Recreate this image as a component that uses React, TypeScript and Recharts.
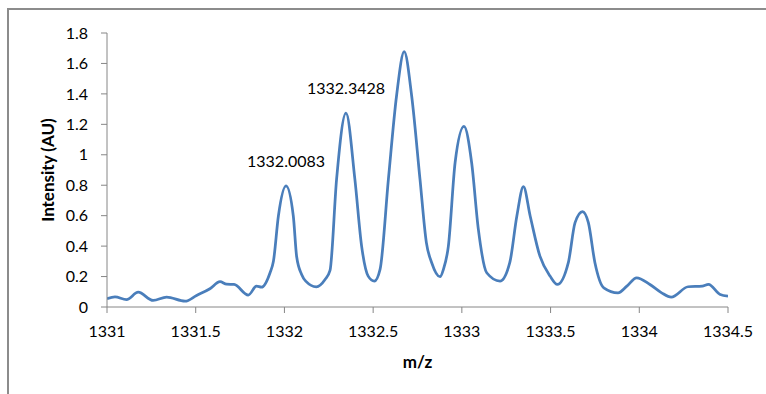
import { LineChart, Line, XAxis, YAxis, Label } from 'recharts'

// m/z readings and intensities
const mzValues = [
  1331.0, 1331.045, 1331.11, 1331.176, 1331.26, 1331.336, 1331.44, 1331.505, 1331.58, 1331.637,
  1331.674, 1331.716, 1331.796, 1331.843, 1331.871, 1331.919, 1331.938, 1331.966, 1332.009, 1332.05,
  1332.069, 1332.097, 1332.12, 1332.18, 1332.229, 1332.257, 1332.294, 1332.347, 1332.397, 1332.435,
  1332.472, 1332.507, 1332.539, 1332.586, 1332.632, 1332.675, 1332.717, 1332.764, 1332.8, 1332.83,
  1332.877, 1332.896, 1332.924, 1332.962, 1333.012, 1333.055, 1333.093, 1333.14, 1333.215, 1333.27,
  1333.31, 1333.347, 1333.385, 1333.44, 1333.497, 1333.538, 1333.6, 1333.638, 1333.68, 1333.713,
  1333.75, 1333.8, 1333.88, 1333.93, 1333.985, 1334.06, 1334.126, 1334.18, 1334.275, 1334.355,
  1334.39, 1334.456, 1334.5,
]
const intensityValues = [
  0.054, 0.067, 0.049, 0.097, 0.043, 0.065, 0.038, 0.076, 0.12, 0.166,
  0.15, 0.148, 0.078, 0.137, 0.13, 0.225, 0.3, 0.598, 0.795, 0.598,
  0.33, 0.214, 0.17, 0.133, 0.181, 0.24, 0.84, 1.274, 0.84, 0.4,
  0.203, 0.17, 0.247, 0.84, 1.388, 1.677, 1.388, 0.84, 0.423, 0.291,
  0.199, 0.247, 0.4, 0.949, 1.186, 0.949, 0.51, 0.225, 0.17, 0.291,
  0.598, 0.791, 0.598, 0.334, 0.203, 0.148, 0.291, 0.554, 0.627, 0.554,
  0.291, 0.126, 0.093, 0.137, 0.192, 0.148, 0.093, 0.065, 0.133, 0.137,
  0.148, 0.082, 0.071,
]

const xTicks = [1331, 1331.5, 1332, 1332.5, 1333, 1333.5, 1334, 1334.5]
const yTicks = [0, 0.2, 0.4, 0.6, 0.8, 1, 1.2, 1.4, 1.6, 1.8]

// annotated peaks
const peakMz = [1332.009, 1332.347]
const peakText = ['1332.0083', '1332.3428']

const data = mzValues.map((mz, i) => ({ mz, intensity: intensityValues[i] }))

const FONT = 'Lato, "Open Sans", sans-serif'
const AXIS = '#868686'

function PeakLabel(props: { x?: number; y?: number; index?: number }) {
  const { x, y, index } = props
  if (x == null || y == null || index == null) return null
  const k = peakMz.indexOf(mzValues[index])
  if (k < 0) return null
  return (
    <text x={x} y={y - 25} dy="0.35em" textAnchor="middle" fontFamily={FONT} fontSize={16} fill="#000">
      {peakText[k]}
    </text>
  )
}

export default function App() {
  return (
    <div style={{ position: 'absolute', left: 0, top: 0, width: 766, height: 394, background: '#fff', overflow: 'hidden' }}>
      <div
        style={{
          position: 'absolute',
          left: 7,
          top: 8,
          width: 780,
          height: 400,
          borderTop: '2px solid #8c8c8c',
          borderLeft: '2px solid #8c8c8c',
        }}
      />
      <LineChart
        width={766}
        height={394}
        data={data}
        margin={{ top: 33, right: 38, left: 0, bottom: 27 }}
        style={{ position: 'absolute', left: 0, top: 0 }}
      >
        <XAxis
          dataKey="mz"
          type="number"
          domain={[1331, 1334.5]}
          ticks={xTicks}
          tickFormatter={(v: number) => String(v)}
          height={60}
          stroke={AXIS}
          tickSize={6}
          tickMargin={13}
          tick={{ fontSize: 16, fontFamily: FONT, fill: '#000' }}
          allowDataOverflow
        >
          <Label
            content={({ viewBox }: any) => (
              <text
                x={viewBox.x + viewBox.width / 2}
                y={viewBox.y + 55}
                textAnchor="middle"
                dy="0.35em"
                fontFamily={FONT}
                fontWeight={700}
                fontSize={17}
                fill="#000"
              >
                m/z
              </text>
            )}
          />
        </XAxis>
        <YAxis
          type="number"
          domain={[0, 1.8]}
          ticks={yTicks}
          tickFormatter={(v: number) => String(v)}
          width={107}
          stroke={AXIS}
          tickSize={6}
          tickMargin={13}
          tick={{ fontSize: 16, fontFamily: FONT, fill: '#000' }}
        >
          <Label
            content={({ viewBox }: any) => {
              const cx = viewBox.x + 48
              const cy = viewBox.y + viewBox.height / 2
              return (
                <text
                  x={cx}
                  y={cy}
                  dy="0.35em"
                  textAnchor="middle"
                  transform={`rotate(-90, ${cx}, ${cy})`}
                  fontFamily={FONT}
                  fontWeight={700}
                  fontSize={17}
                  fill="#000"
                >
                  Intensity (AU)
                </text>
              )
            }}
          />
        </YAxis>
        <Line
          type="monotone"
          dataKey="intensity"
          stroke="#4a7ebb"
          strokeWidth={2.75}
          dot={false}
          activeDot={false}
          isAnimationActive={false}
          label={(p: any) => <PeakLabel key={`pk-${p.index}`} {...p} />}
        />
      </LineChart>
    </div>
  )
}
